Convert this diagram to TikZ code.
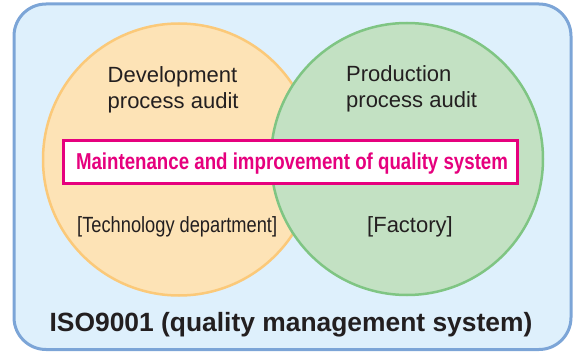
\documentclass[tikz,border=0pt]{standalone}
\usepackage{fontspec}
\usepackage{graphicx}
\setmainfont{Liberation Sans}
\definecolor{outerfill}{HTML}{DEF0FC}
\definecolor{outerdraw}{HTML}{7CA5D7}
\definecolor{orfill}{HTML}{FDE3B6}
\definecolor{ordraw}{HTML}{FBC979}
\definecolor{grfill}{HTML}{C3E1C3}
\definecolor{grdraw}{HTML}{7FC583}
\definecolor{magenta2}{HTML}{E6007E}
\definecolor{txt}{HTML}{231F20}
\tikzset{
  circ/.style={circle, line width=2.5pt, minimum size=272pt, inner sep=0pt},
  lbl/.style={inner sep=0pt, text=txt, font=\fontsize{22}{26}\selectfont, align=left},
}
\begin{document}
\begin{tikzpicture}[x=1pt,y=-1pt]
\useasboundingbox (0,0) rectangle (574,353);
\draw[line width=3pt, draw=outerdraw, fill=outerfill, rounded corners=32pt] (14,4) rectangle (571,349.5);
\node[circ, fill=orfill, draw=ordraw] (dev) at (179,159.5) {};
\node[circ, fill=grfill, draw=grdraw] (prod) at (407,159) {};
\node[lbl, anchor=base west] (devt) at (107.5,108.3) {Development\\process audit};
\node[lbl, anchor=base west] (prodt) at (346,107.5) {Production\\process audit};
\node[draw=magenta2, fill=white, line width=3pt, minimum width=454pt, minimum height=43pt, inner sep=0pt] (mnt) at (290,162) {};
\node[inner sep=0pt, anchor=base, text=magenta2, font=\bfseries\fontsize{23}{26}\selectfont] (mntt) at (292,170) {\scalebox{0.8125}[1]{Maintenance and improvement of quality system}};
\node[lbl, anchor=base west] (tech) at (77,233) {\scalebox{0.83}[1]{[Technology department]}};
\node[lbl, anchor=base west] (fact) at (367,233) {[Factory]};
\node[inner sep=0pt, anchor=base, text=txt, font=\bfseries\fontsize{26.4}{30}\selectfont] (iso) at (291,331) {ISO9001 (quality management system)};
\end{tikzpicture}
\end{document}
